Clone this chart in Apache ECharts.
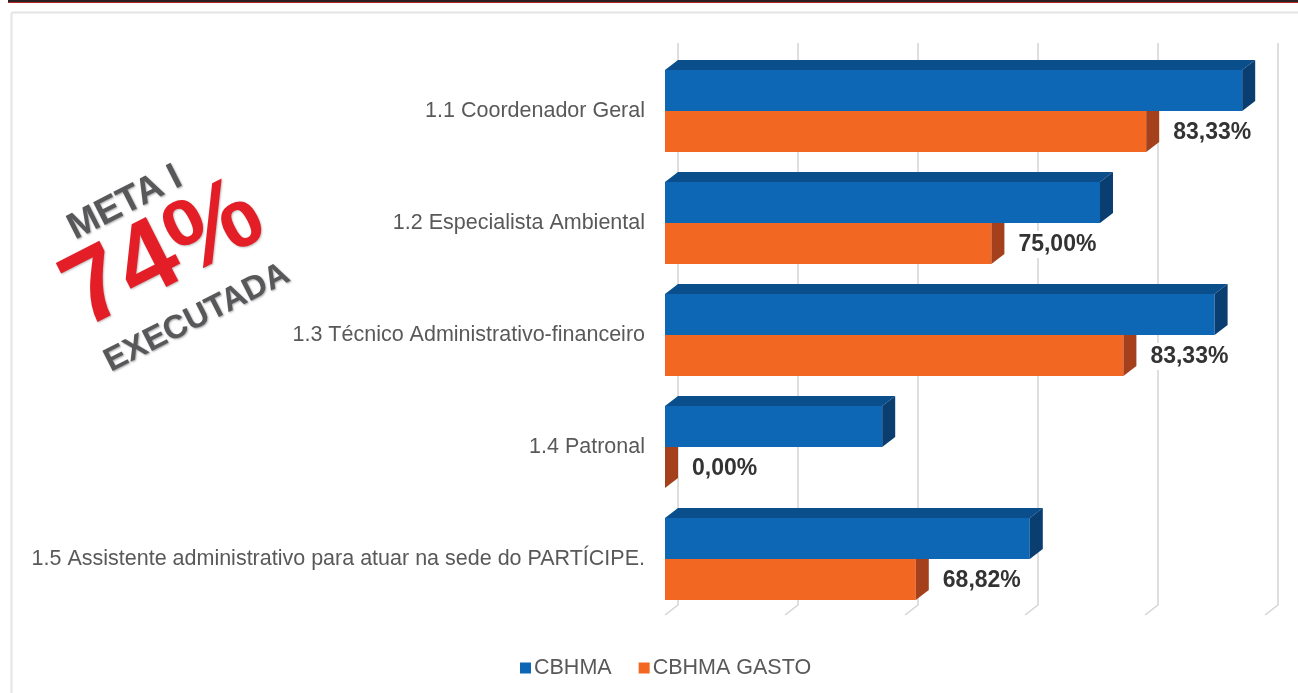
<!DOCTYPE html>
<html>
<head>
<meta charset="utf-8">
<script src="https://cdn.jsdelivr.net/npm/echarts@6/dist/echarts.min.js"></script>
<style>
  html, body { margin: 0; padding: 0; background: #ffffff; }
  #chart { width: 1298px; height: 693px; }
</style>
</head>
<body>
<div id="chart"></div>
<script>
// Categories (rubricas da Meta I)
const categorias = [
  '1.1 Coordenador Geral',
  '1.2 Especialista Ambiental',
  '1.3 Técnico Administrativo-financeiro',
  '1.4 Patronal',
  '1.5 Assistente administrativo para atuar na sede do PARTÍCIPE.'
];
// Planned amount (CBHMA) and amount spent (CBHMA GASTO), in axis units
const cbhma      = [4.81, 3.625, 4.58, 1.81, 3.04];
const cbhmaGasto = [4.01, 2.72, 3.82, 0.00, 2.09];
// Execution percentage shown next to each spent bar
const percentuais = ['83,33%', '75,00%', '83,33%', '0,00%', '68,82%'];
// Value-axis gridline positions
const xTicks = [0, 1, 2, 3, 4, 5];

const DEPTH_X = 13, DEPTH_Y = 10;   // 3D extrusion of bars and walls
const BAR_SHARE = 0.366;            // bar thickness as share of a category band

const cores = {
  plan:  { front: '#0d67b5', top: '#0a4e8c', side: '#0a3d70' },
  spent: { front: '#f26822', top: '#c9541a', side: '#a5401c' }
};

function barRenderer(kind) {
  return function (params, api) {
    const cat = api.value(1);
    const val = api.value(0);
    const p0 = api.coord([0, cat]);
    const p1 = api.coord([val, cat]);
    const band = api.size([0, 1])[1];
    const h = band * BAR_SHARE;
    const cy = p0[1];
    const yTop = kind === 'plan' ? cy - h : cy;
    const yBot = yTop + h;
    const x0 = p0[0], x1 = p1[0];
    const c = cores[kind];
    const children = [
      { type: 'polygon', shape: { points: [[x0, yTop], [x0 + DEPTH_X, yTop - DEPTH_Y], [x1 + DEPTH_X, yTop - DEPTH_Y], [x1, yTop]] },
        style: { fill: c.top } },
      { type: 'rect', shape: { x: x0, y: yTop, width: x1 - x0, height: h }, style: { fill: c.front } },
      { type: 'polygon', shape: { points: [[x1, yTop], [x1 + DEPTH_X, yTop - DEPTH_Y], [x1 + DEPTH_X, yBot - DEPTH_Y], [x1, yBot]] },
        style: { fill: c.side } }
    ];
    if (kind === 'spent') {
      children.push({
        type: 'text',
        style: {
          text: percentuais[params.dataIndex],
          x: x1 + 23, y: cy + h / 2 + 1,
          align: 'left', verticalAlign: 'middle',
          font: 'bold 23px "Liberation Sans", Arial, sans-serif',
          fill: '#333333',
          backgroundColor: '#ffffff',
          padding: [2, 4]
        }
      });
    }
    return { type: 'group', children: children };
  };
}

function gridRenderer(params, api) {
  const x = api.coord([api.value(0), 0])[0];
  const cs = params.coordSys;
  const top = cs.y, bottom = cs.y + cs.height;
  return {
    type: 'polyline',
    shape: { points: [[x + DEPTH_X, top - DEPTH_Y - 2], [x + DEPTH_X, bottom - DEPTH_Y], [x, bottom]] },
    style: { stroke: '#d4d4d4', lineWidth: 1.5, fill: null }
  };
}

const chart = echarts.init(document.getElementById('chart'), null, { renderer: 'canvas' });

const stampFont = '"Liberation Sans", Arial, sans-serif';
const ang = 0.47;

chart.setOption({
  backgroundColor: '#ffffff',
  animation: false,
  textStyle: { fontFamily: '"Liberation Sans", Arial, sans-serif' },
  grid: { left: 665, right: 33, top: 55, bottom: 78, containLabel: false },
  xAxis: {
    type: 'value', min: 0, max: 5, interval: 1,
    axisLine: { show: false }, axisTick: { show: false },
    axisLabel: { show: false }, splitLine: { show: false }
  },
  yAxis: {
    type: 'category', data: categorias, inverse: true,
    axisLine: { show: false }, axisTick: { show: false },
    axisLabel: { color: '#595959', fontSize: 21.5, margin: 20 }
  },
  legend: {
    left: 515, top: 652,
    icon: 'rect', itemWidth: 11, itemHeight: 11, itemGap: 27,
    textStyle: { color: '#595959', fontSize: 21.5, padding: [0, 0, 0, -2] },
    data: ['CBHMA', 'CBHMA GASTO']
  },
  graphic: [
    { type: 'rect', left: 8, top: 0, shape: { width: 1290, height: 2 }, style: { fill: '#2a2222' } },
    { type: 'rect', left: 8, top: 2, shape: { width: 1290, height: 1 }, style: { fill: '#b5262b' } },
    { type: 'rect', left: 9, top: 10, shape: { width: 1300, height: 700, r: 2 },
      style: { fill: null, stroke: '#e4e4e4', lineWidth: 2 } },
    { type: 'text', x: 125, y: 203, rotation: ang,
      style: { text: 'META I', font: 'bold 37px ' + stampFont, fill: '#58585a',
               align: 'center', verticalAlign: 'middle',
               textShadowColor: 'rgba(0,0,0,0.35)', textShadowBlur: 2, textShadowOffsetX: 1, textShadowOffsetY: 1 } },
    { type: 'text', x: 164, y: 256, rotation: ang,
      style: { text: '74%', font: 'bold 104px ' + stampFont, fill: '#e31e26',
               align: 'center', verticalAlign: 'middle',
               textShadowColor: 'rgba(0,0,0,0.25)', textShadowBlur: 2, textShadowOffsetX: 1, textShadowOffsetY: 1 } },
    { type: 'text', x: 197, y: 318, rotation: ang,
      style: { text: 'EXECUTADA', font: 'bold 33px ' + stampFont, fill: '#58585a',
               align: 'center', verticalAlign: 'middle',
               textShadowColor: 'rgba(0,0,0,0.35)', textShadowBlur: 2, textShadowOffsetX: 1, textShadowOffsetY: 1 } }
  ],
  series: [
    {
      name: 'gridlines', type: 'custom', z: 1, silent: true,
      data: xTicks.map(v => [v, 0]), encode: { x: 0, y: 1 },
      renderItem: gridRenderer
    },
    {
      name: 'CBHMA', type: 'custom', z: 4,
      itemStyle: { color: '#0d67b5' },
      data: cbhma.map((v, i) => [v, i]), encode: { x: 0, y: 1 },
      renderItem: barRenderer('plan')
    },
    {
      name: 'CBHMA GASTO', type: 'custom', z: 3,
      itemStyle: { color: '#f26822' },
      data: cbhmaGasto.map((v, i) => [v, i]), encode: { x: 0, y: 1 },
      renderItem: barRenderer('spent')
    }
  ]
});
</script>
</body>
</html>
